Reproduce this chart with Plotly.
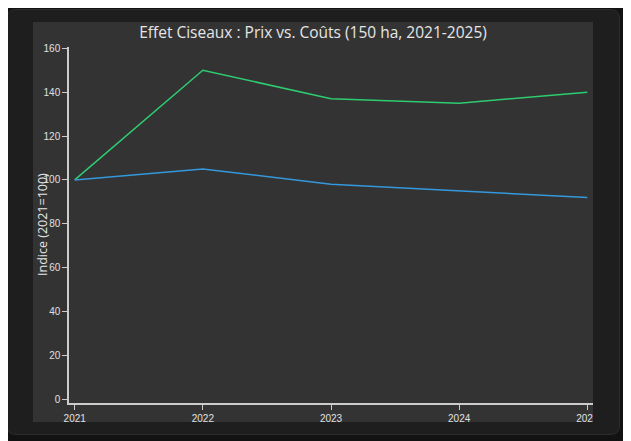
import plotly.graph_objects as go

years = [2021, 2022, 2023, 2024, 2025]
prix = [100, 150, 137, 135, 140]      # green series
couts = [100, 105, 98, 95, 92]        # blue series
y_ticks = [0, 20, 40, 60, 80, 100, 120, 140, 160]
title_text = "Effet Ciseaux : Prix vs. Coûts (150 ha, 2021-2025)"
y_title = "Indice (2021=100)"

OFF = 8  # page body margin
W, H = 631 - OFF, 441 - OFF
L, R, T, B = 69 - OFF, 593 - OFF, 47 - OFF, 403 - OFF   # plot area in px


def px(x):
    return (x - OFF - L) / (R - L)


def py(y):
    return (B - (y - OFF)) / (B - T)


def rrect(x0, y0, x1, y1, r):
    return (f"M {px(x0 + r)} {py(y0)} L {px(x1 - r)} {py(y0)} "
            f"Q {px(x1)} {py(y0)} {px(x1)} {py(y0 + r)} "
            f"L {px(x1)} {py(y1 - r)} Q {px(x1)} {py(y1)} {px(x1 - r)} {py(y1)} "
            f"L {px(x0 + r)} {py(y1)} Q {px(x0)} {py(y1)} {px(x0)} {py(y1 - r)} "
            f"L {px(x0)} {py(y0 + r)} Q {px(x0)} {py(y0)} {px(x0 + r)} {py(y0)} Z")


def rect(x0, y0, x1, y1):
    return (f"M {px(x0)} {py(y0)} L {px(x1)} {py(y0)} L {px(x1)} {py(y1)} "
            f"L {px(x0)} {py(y1)} Z")


card = (7, 9.5, 619.5, 434.5)
inner = (33, 22, 593, 422)

fig = go.Figure()
fig.add_trace(go.Scatter(x=years, y=prix, mode="lines",
                         line=dict(color="#2ecc71", width=1.5), showlegend=False))
fig.add_trace(go.Scatter(x=years, y=couts, mode="lines",
                         line=dict(color="#3498db", width=1.5), showlegend=False))

shapes = [
    dict(type="path", xref="paper", yref="paper", layer="below",
         path=rrect(*card, 9), fillcolor="#1e1e1e", line=dict(width=0)),
    dict(type="path", xref="paper", yref="paper", layer="below",
         path=rect(*inner), fillcolor="#333333", line=dict(width=0)),
    dict(type="path", xref="paper", yref="paper", layer="above",
         path=rrect(*card, 9) + " " + rect(*inner), fillrule="evenodd",
         fillcolor="#1e1e1e", line=dict(width=0)),
    dict(type="path", xref="paper", yref="paper", layer="above",
         path=rrect(*card, 9), fillcolor="rgba(0,0,0,0)",
         line=dict(color="#2c2c2c", width=1)),
]

fig.update_layout(
    width=W, height=H,
    margin=dict(l=L, r=W - R, t=T, b=H - B, pad=0),
    paper_bgcolor="#121212",
    plot_bgcolor="rgba(0,0,0,0)",
    shapes=shapes,
    title=dict(text=title_text, x=(313 - OFF) / W, xanchor="center",
               y=1 - (33 - OFF) / H, yanchor="middle",
               font=dict(family="Open Sans", size=15.5, color="#e6e6e6")),
    annotations=[dict(text=y_title, xref="paper", yref="paper",
                      x=px(42), y=0.5, xanchor="center", yanchor="middle",
                      textangle=-90, showarrow=False,
                      font=dict(family="Open Sans", size=12.5, color="#e6e6e6"))],
    xaxis=dict(range=[2020.9555, 2025.0445], tickvals=years,
               ticktext=[str(y) for y in years],
               showgrid=False, zeroline=False, showline=True,
               linecolor="#cccccc", linewidth=1.5,
               ticks="outside", ticklen=5, tickcolor="#cccccc",
               tickfont=dict(family="Liberation Sans", size=10, color="#e0e0e0")),
    yaxis=dict(range=[-1.69, 160.6], tickvals=y_ticks,
               showgrid=False, zeroline=False, showline=True,
               linecolor="#cccccc", linewidth=1.5,
               ticks="outside", ticklen=5, tickcolor="#cccccc",
               tickfont=dict(family="Liberation Sans", size=10, color="#e0e0e0")),
)

fig.write_html("out.html")
